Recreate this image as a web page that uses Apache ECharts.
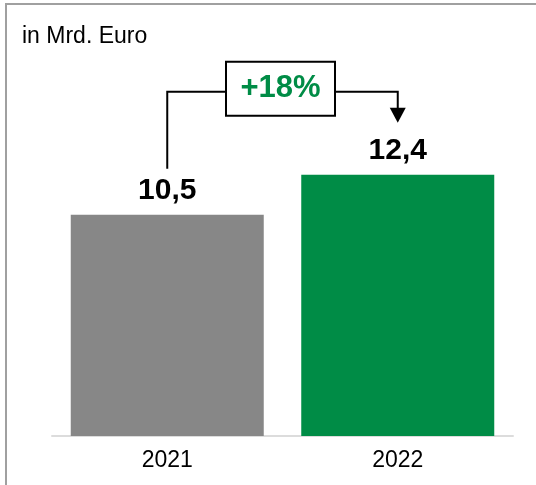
<!DOCTYPE html>
<html>
<head>
<meta charset="utf-8">
<script src="https://cdn.jsdelivr.net/npm/echarts@6/dist/echarts.min.js"></script>
<style>
  html, body { margin: 0; padding: 0; background: #fff; }
  #chart { width: 536px; height: 485px; }
</style>
</head>
<body>
<div id="chart"></div>
<script>
// data
const years = ['2021', '2022']
const values = [10.5, 12.4]
const barColors = ['#878787', '#008C46']
const changeLabel = '+18%'
const unitLabel = 'in Mrd. Euro'

const fontFamily = '"Liberation Sans", Arial, sans-serif'

const chart = echarts.init(document.getElementById('chart'))

chart.setOption({
  backgroundColor: '#fff',
  animation: false,
  grid: { left: 52, right: 23, top: 120, bottom: 49 },
  xAxis: {
    type: 'category',
    data: years,
    axisLine: { lineStyle: { color: '#dcdcdc', width: 2 } },
    axisTick: { show: false },
    axisLabel: { color: '#000', fontSize: 23, fontFamily, margin: 13 }
  },
  yAxis: { type: 'value', min: 0, max: 15, show: false },
  series: [{
    type: 'bar',
    barWidth: 193,
    data: values.map((v, i) => ({ value: v, itemStyle: { color: barColors[i] } })),
    label: {
      show: true,
      position: 'top',
      distance: 9,
      color: '#000',
      fontSize: 30,
      fontWeight: 'bold',
      fontFamily,
      formatter: p => String(p.value).replace('.', ',')
    }
  }]
})

// connector annotation, placed from the bar positions
const p1 = chart.convertToPixel({ xAxisIndex: 0, yAxisIndex: 0 }, [0, values[0]])
const p2 = chart.convertToPixel({ xAxisIndex: 0, yAxisIndex: 0 }, [1, values[1]])
const topY = Math.min(p1[1], p2[1])
const lineY = topY - 83
const leftBottom = p1[1] - 46
const arrowTip = p2[1] - 52
const boxW = 109, boxH = 54
const boxX = (p1[0] + p2[0]) / 2 - boxW / 2 - 2
const lineStyle = { stroke: '#000', lineWidth: 2, fill: null }

chart.setOption({
  graphic: [
    {
      type: 'rect',
      shape: { x: 6, y: 4, width: 540, height: 500 },
      style: { stroke: '#a0a0a0', lineWidth: 2, fill: null },
      silent: true
    },
    {
      type: 'text',
      left: 22, top: 25,
      style: { text: unitLabel, fill: '#000', fontSize: 23, fontFamily }
    },
    {
      type: 'polyline',
      shape: { points: [[p1[0], leftBottom], [p1[0], lineY], [boxX, lineY]] },
      style: lineStyle
    },
    {
      type: 'polyline',
      shape: { points: [[boxX + boxW, lineY], [p2[0], lineY], [p2[0], arrowTip - 12]] },
      style: lineStyle
    },
    {
      type: 'polygon',
      shape: { points: [[p2[0] - 8, arrowTip - 15], [p2[0] + 8, arrowTip - 15], [p2[0], arrowTip]] },
      style: { fill: '#000' }
    },
    {
      type: 'rect',
      shape: { x: boxX, y: lineY - boxH / 2 - 3, width: boxW, height: boxH },
      style: { stroke: '#000', lineWidth: 2, fill: '#fff' }
    },
    {
      type: 'text',
      x: boxX + boxW / 2, y: lineY - 3,
      style: {
        text: changeLabel, fill: '#008C46', fontSize: 31, fontWeight: 'bold', fontFamily,
        align: 'center', verticalAlign: 'middle'
      }
    }
  ]
})
</script>
</body>
</html>
